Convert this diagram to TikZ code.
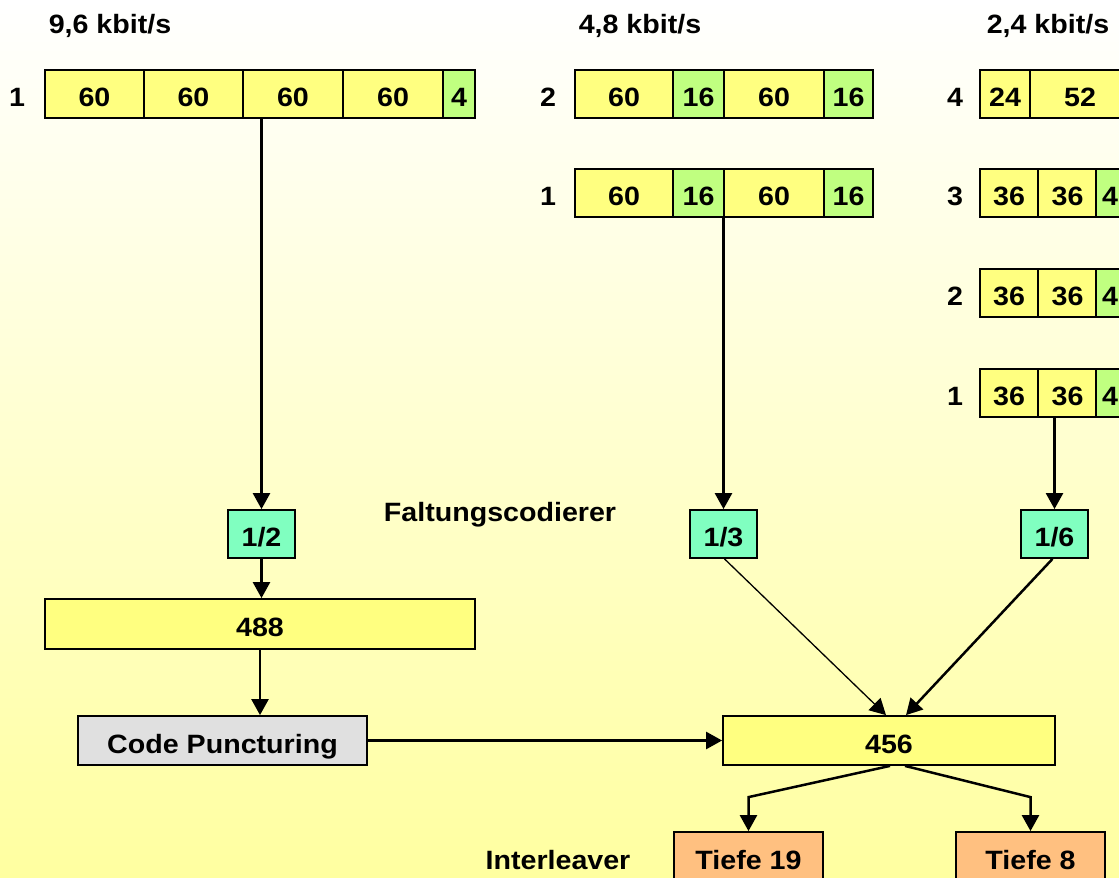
\documentclass[tikz,border=0pt]{standalone}
\usepackage{fontspec}
\setmainfont{Liberation Sans}[FakeStretch=1.08]
\usetikzlibrary{arrows.meta}

\definecolor{bgyellow}{RGB}{255,255,160}
\definecolor{cellyellow}{RGB}{255,255,128}
\definecolor{cellgreen}{RGB}{192,255,128}
\definecolor{coderteal}{RGB}{128,255,192}
\definecolor{depthorange}{RGB}{255,192,128}
\definecolor{punctgray}{RGB}{224,224,224}

\tikzset{
  txt/.style={font=\bfseries\fontsize{26.5}{29}\selectfont, inner sep=0pt, text depth=0pt},
  cell/.style={txt, draw=black, line width=1.8pt, minimum height=48pt, text height=25pt},
  rowlabel/.style={txt, text height=25pt},
  yel/.style={cell, fill=cellyellow},
  grn/.style={cell, fill=cellgreen},
  coder/.style={cell, fill=coderteal, minimum width=67pt},
  depthbox/.style={cell, fill=depthorange, minimum width=149pt, minimum height=49pt},
  conn/.style={line width=2.5pt, -{Triangle[width=17pt,length=16pt]}},
  thinconn/.style={line width=1.3pt, -{Triangle[width=17pt,length=16pt]}},
}

\begin{document}
\begin{tikzpicture}[x=1pt,y=-1pt]
\clip (0,0) rectangle (1119,878);
\shade[top color=white, bottom color=bgyellow] (0,0) rectangle (1119,878);

% data rates
\node[txt] (rate96) at (110,24) {9,6 kbit/s};
\node[txt] (rate48) at (640,24) {4,8 kbit/s};
\node[txt] (rate24) at (1048,24) {2,4 kbit/s};

% 9,6 kbit/s block
\node[rowlabel] (l96) at (17,94) {1};
\node[yel, minimum width=99pt]  (a1) at (94.5,94)  {60};
\node[yel, minimum width=99pt]  (a2) at (193.5,94) {60};
\node[yel, minimum width=100pt] (a3) at (293,94)   {60};
\node[yel, minimum width=100pt] (a4) at (393,94)   {60};
\node[grn, minimum width=32pt]  (a5) at (459,94)   {4};

% 4,8 kbit/s blocks
\node[rowlabel] (l48b) at (548,94) {2};
\node[yel, minimum width=98pt]  (b1) at (624,94)   {60};
\node[grn, minimum width=51pt]  (b2) at (698.5,94) {16};
\node[yel, minimum width=100pt] (b3) at (774,94)   {60};
\node[grn, minimum width=49pt]  (b4) at (848.5,94) {16};

\node[rowlabel] (l48a) at (548,193) {1};
\node[yel, minimum width=98pt]  (c1) at (624,193)   {60};
\node[grn, minimum width=51pt]  (c2) at (698.5,193) {16};
\node[yel, minimum width=100pt] (c3) at (774,193)   {60};
\node[grn, minimum width=49pt]  (c4) at (848.5,193) {16};

% 2,4 kbit/s blocks
\node[rowlabel] (l24d) at (955,94) {4};
\node[yel, minimum width=50pt]  (d1) at (1005,94) {24};
\node[yel, minimum width=100pt] (d2) at (1080,94) {52};

\node[rowlabel] (l24c) at (955,193) {3};
\node[yel, minimum width=58pt] (e1) at (1009,193)   {36};
\node[yel, minimum width=59pt] (e2) at (1067.5,193) {36};
\node[grn, minimum width=28pt] (e3) at (1110,193)   {4};

\node[rowlabel] (l24b) at (955,293) {2};
\node[yel, minimum width=58pt] (f1) at (1009,293)   {36};
\node[yel, minimum width=59pt] (f2) at (1067.5,293) {36};
\node[grn, minimum width=28pt] (f3) at (1110,293)   {4};

\node[rowlabel] (l24a) at (955,393) {1};
\node[yel, minimum width=58pt] (g1) at (1009,393)   {36};
\node[yel, minimum width=59pt] (g2) at (1067.5,393) {36};
\node[grn, minimum width=28pt] (g3) at (1110,393)   {4};

% convolutional coders
\node[coder] (half)  at (261.5,534)  {1/2};
\node[coder] (third) at (723.5,534)  {1/3};
\node[coder] (sixth) at (1054.5,534) {1/6};
\node[txt] (coderlbl) at (500,512) {Faltungscodierer};

% coded blocks
\node[yel, minimum width=430pt, minimum height=50pt] (b488) at (260,624) {488};
\node[cell, fill=punctgray, minimum width=289pt, minimum height=49pt] (cp) at (222.5,740.5) {Code Puncturing};
\node[yel, minimum width=332pt, minimum height=49pt] (b456) at (889,740.5) {456};

% interleaving
\node[txt] (ilv) at (558,860) {Interleaver};
\node[depthbox] (t19) at (748.5,856.5) {Tiefe 19};
\node[depthbox] (t8)  at (1030.5,856.5) {Tiefe 8};

% connectors
\draw[conn] (half.north |- a3.south) -- (half.north);
\draw[conn] (third.north |- c1.south) -- (third.north);
\draw[conn] (sixth.north |- g1.south) -- (sixth.north);
\draw[conn] (half.south) -- (half.south |- b488.north);
\draw[conn] (b488.south) -- (b488.south |- cp.north);
\draw[conn] (cp.east) -- (b456.west);
\draw[thinconn] ([xshift=1pt]third.south) -- ([xshift=-3pt]b456.north);
\draw[conn] ([xshift=-2pt]sixth.south) -- ([xshift=17pt]b456.north);
\draw[conn] ([xshift=1pt]b456.south) -- ([yshift=34pt]t19.north) -- (t19.north);
\draw[conn] ([xshift=16pt]b456.south) -- ([yshift=34pt]t8.north) -- (t8.north);
\end{tikzpicture}
\end{document}
